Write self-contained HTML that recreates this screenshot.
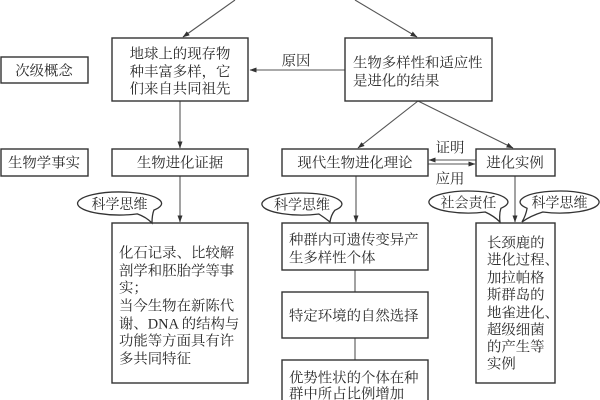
<!DOCTYPE html>
<html><head><meta charset="utf-8"><style>
html,body{margin:0;padding:0;background:#fff;}
svg{display:block;}
text{font-family:"Liberation Serif","Noto Serif CJK SC","Noto Sans CJK SC",serif;font-size:14.4px;fill:#2a2a2a;}
.c{text-anchor:middle;}
.s{font-size:14px;}
</style></head><body>
<svg width="600" height="400" viewBox="0 0 600 400" xmlns="http://www.w3.org/2000/svg">
<defs>
<marker id="ah" markerWidth="7" markerHeight="5" refX="6.5" refY="2.5" orient="auto" markerUnits="userSpaceOnUse">
<path d="M0,0 L7,2.5 L0,5 Z" fill="#333"/>
</marker>
</defs>
<g stroke="#555" stroke-width="1.1" fill="none">
<line x1="235" y1="0" x2="183" y2="37" marker-end="url(#ah)"/>
<line x1="355" y1="0" x2="417" y2="37" marker-end="url(#ah)"/>
<line x1="345" y1="70" x2="250" y2="70" marker-end="url(#ah)"/>
<line x1="180" y1="101" x2="180" y2="148" marker-end="url(#ah)"/>
<line x1="418" y1="101" x2="358" y2="148" marker-end="url(#ah)"/>
<line x1="418" y1="101" x2="513" y2="148" marker-end="url(#ah)"/>
<line x1="476" y1="160" x2="429" y2="160" marker-end="url(#ah)"/>
<line x1="428" y1="164" x2="475" y2="164" marker-end="url(#ah)"/>
<line x1="180" y1="176" x2="180" y2="222" marker-end="url(#ah)"/>
<line x1="356" y1="176" x2="356" y2="222" marker-end="url(#ah)"/>
<line x1="515" y1="176" x2="515" y2="222" marker-end="url(#ah)"/>
<line x1="355" y1="270" x2="355" y2="292"/>
<line x1="355" y1="338" x2="355" y2="360"/>
</g>
<g stroke="#333" stroke-width="1.4" fill="#fff">
<rect x="1" y="57" width="87" height="26"/>
<rect x="112" y="38" width="136" height="63"/>
<rect x="345" y="38" width="147" height="63"/>
<rect x="1" y="149" width="87" height="27"/>
<rect x="112" y="149" width="136" height="27"/>
<rect x="282" y="149" width="146" height="27"/>
<rect x="476" y="149" width="79" height="27"/>
<rect x="112" y="223" width="136" height="160"/>
<rect x="282" y="223" width="146" height="47"/>
<rect x="282" y="292" width="146" height="46"/>
<rect x="282" y="360" width="146" height="50"/>
<rect x="476" y="223" width="79" height="160"/>
</g>
<g stroke="#333" stroke-width="1.3" fill="#fff">
<path d="M137.3 213.9 A42 11.5 0 1 1 153.9 210.1 Q152 215 152 223 Q146 217 137.3 213.9 Z"/>
<path d="M318.9 214 A40 11 0 1 1 334.8 210.3 Q331 215 330 222 Q325 218 318.9 214 Z"/>
<path d="M485.2 212 A39.5 11 0 1 1 500.9 208.3 Q499 214 500 222 Q494 216 485.2 212 Z"/>
<path d="M527.1 208.3 A39.5 11 0 1 1 542.8 212 Q530 216 522 222 Q526 215 527.1 208.3 Z"/>
</g>
<text class="c" x="44" y="75.5">次级概念</text>
<text class="c" x="44" y="167.5">生物学事实</text>
<text class="c" x="180" y="58.5">地球上的现存物</text>
<text class="c" x="180" y="76.5">种丰富多样，它</text>
<text class="c" x="180" y="93.5">们来自共同祖先</text>
<text x="353" y="67.5">生物多样性和适应性</text>
<text x="353" y="85.5">是进化的结果</text>
<text class="c" x="296" y="65.5">原因</text>
<text class="c" x="180" y="167.5">生物进化证据</text>
<text class="c" x="355" y="167.5">现代生物进化理论</text>
<text class="c" x="515" y="167.5">进化实例</text>
<text class="c" x="450" y="152.5">证明</text>
<text class="c" x="450" y="183.5">应用</text>
<text class="c s" x="119.5" y="209">科学思维</text>
<text class="c s" x="302" y="209.5">科学思维</text>
<text class="c s" x="468.5" y="207.5">社会责任</text>
<text class="c s" x="559.5" y="207.5">科学思维</text>
<text x="119" y="257.5">化石记录、比较解</text>
<text x="119" y="275.5">剖学和胚胎学等事</text>
<text x="119" y="292.5">实；</text>
<text x="119" y="310.5">当今生物在新陈代</text>
<text x="119" y="328.5">谢、DNA 的结构与</text>
<text x="119" y="345.5">功能等方面具有许</text>
<text x="119" y="363.5">多共同特征</text>
<text x="289" y="244.5">种群内可遗传变异产</text>
<text x="289" y="262.5">生多样性个体</text>
<text x="289" y="320.5">特定环境的自然选择</text>
<text x="289" y="382.5">优势性状的个体在种</text>
<text x="289" y="398.5">群中所占比例增加</text>
<text x="487" y="247.5">长颈鹿的</text>
<text x="487" y="264.5">进化过程、</text>
<text x="487" y="282.5">加拉帕格</text>
<text x="487" y="299.5">斯群岛的</text>
<text x="487" y="317.5">地雀进化、</text>
<text x="487" y="334.5">超级细菌</text>
<text x="487" y="351.5">的产生等</text>
<text x="487" y="368.5">实例</text>
</svg>
</body></html>
